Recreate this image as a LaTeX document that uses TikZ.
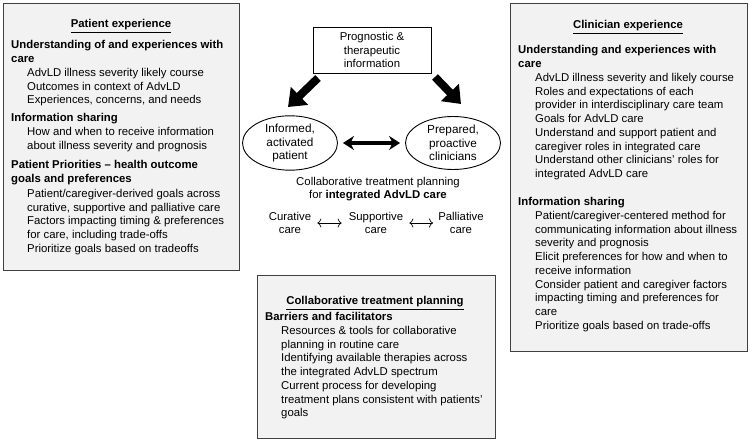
\documentclass[tikz,border=0pt]{standalone}
\usepackage{fontspec}
\setmainfont{Liberation Sans}
\usetikzlibrary{shapes.geometric, arrows.meta}

\begin{document}
\begin{tikzpicture}[x=1bp, y=-1bp, font=\fontsize{11.4}{13.8}\selectfont]
\tikzstyle{panel} = [rectangle, draw=black!75, line width=1.2bp, fill=black!5, anchor=north west, inner sep=0]
\tikzstyle{title} = [anchor=base, inner sep=0, font=\fontsize{11.4}{13.8}\selectfont\bfseries]
\tikzstyle{head} = [anchor=north west, inner sep=0, align=left, font=\fontsize{11.4}{13.8}\selectfont\bfseries]
\tikzstyle{items} = [anchor=north west, inner sep=0, align=left]
\tikzstyle{infobox} = [rectangle, draw=black, line width=0.9bp, minimum width=118bp, minimum height=46bp, align=center, inner sep=0]
\tikzstyle{oval} = [ellipse, draw=black, line width=0.9bp, minimum width=95bp, minimum height=53bp, align=center, inner sep=0, font=\fontsize{11.8}{13.8}\selectfont]
\tikzstyle{care} = [align=center, inner sep=0]
\tikzstyle{bigarrow} = [line width=8bp, -{Triangle[width=24bp,length=16bp]}]
\tikzstyle{dblarrow} = [line width=3.4bp, {Stealth[width=14bp,length=11bp]}-{Stealth[width=14bp,length=11bp]}, shorten >=5bp, shorten <=5bp]
\tikzstyle{thinarrow} = [line width=0.7bp, {To[width=9bp,length=4bp]}-{To[width=9bp,length=4bp]}]

\useasboundingbox (0,0) rectangle (750,441);

\node (ppanel) [panel, minimum width=236bp, minimum height=267bp] at (3,3) {};
\node (ptitle) [title] at (121,28) {\underline{Patient experience}};
\node (phead1) [head] at (11,40) {Understanding of and experiences with\\care};
\node (pitems1) [items] at (27,68) {AdvLD illness severity likely course\\Outcomes in context of AdvLD\\Experiences, concerns, and needs};
\node (phead2) [head] at (11,113) {Information sharing};
\node (pitems2) [items] at (27,127) {How and when to receive information\\about illness severity and prognosis};
\node (phead3) [head] at (11,160) {Patient Priorities -- health outcome\\goals and preferences};
\node (pitems3) [items] at (27,189) {Patient/caregiver-derived goals across\\curative, supportive and palliative care\\Factors impacting timing \& preferences\\for care, including trade-offs\\Prioritize goals based on tradeoffs};

\node (cpanel) [panel, minimum width=237bp, minimum height=348bp] at (510,3) {};
\node (ctitle) [title] at (628,29) {\underline{Clinician experience}};
\node (chead1) [head] at (518,45) {Understanding and experiences with\\care};
\node (citems1) [items] at (535,73) {AdvLD illness severity and likely course\\Roles and expectations of each\\provider in interdisciplinary care team\\Goals for AdvLD care\\Understand and support patient and\\caregiver roles in integrated care\\Understand other clinicians' roles for\\integrated AdvLD care};
\node (chead2) [head] at (518,197) {Information sharing};
\node (citems2) [items] at (535,211) {Patient/caregiver-centered method for\\communicating information about illness\\severity and prognosis\\Elicit preferences for how and when to\\receive information\\Consider patient and caregiver factors\\impacting timing and preferences for\\care\\Prioritize goals based on trade-offs};

\node (bpanel) [panel, minimum width=238bp, minimum height=163bp] at (257,275) {};
\node (btitle) [title] at (375,305) {\underline{Collaborative treatment planning}};
\node (bhead) [head] at (265,312) {Barriers and facilitators};
\node (bitems) [items] at (281,326) {Resources \& tools for collaborative\\planning in routine care\\Identifying available therapies across\\the integrated AdvLD spectrum\\Current process for developing\\treatment plans consistent with patients'\\goals};

\node (prog) [infobox] at (372,50) {Prognostic \&\\therapeutic\\information};
\node (patient) [oval] at (290,143) {Informed,\\activated\\patient};
\node (clinician) [oval] at (453,143) {Prepared,\\proactive\\clinicians};

\coordinate (ltail) at (318,78);
\coordinate (lhead) at (288,107);
\coordinate (rtail) at (435,77);
\coordinate (rhead) at (461,104);
\draw [bigarrow] (ltail) -- (lhead);
\draw [bigarrow] (rtail) -- (rhead);
\draw [dblarrow] (patient) -- (clinician);

\node (collab) [care] at (378,189) {Collaborative treatment planning\\for \textbf{integrated AdvLD care}};
\node (curative) [care] at (290,223) {Curative\\care};
\node (supportive) [care] at (376,223) {Supportive\\care};
\node (palliative) [care] at (461,223) {Palliative\\care};
\draw [thinarrow, shorten <=6bp, shorten >=7bp] (curative) -- (supportive);
\draw [thinarrow, shorten <=6bp, shorten >=5bp] (supportive) -- (palliative);
\end{tikzpicture}
\end{document}
